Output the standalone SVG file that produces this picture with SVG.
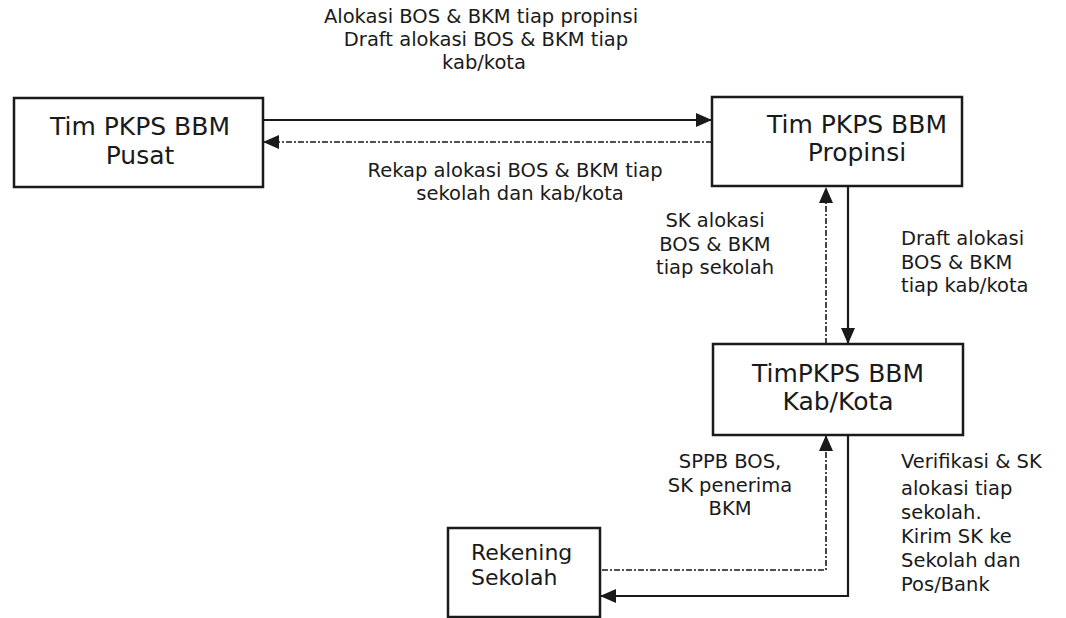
<svg xmlns="http://www.w3.org/2000/svg" width="1066" height="618" viewBox="0 0 1066 618">
<defs>
<style>
.box{fill:#fff;stroke:#1a1a1a;stroke-width:2.5}
.t{font-family:"DejaVu Sans","Liberation Sans",sans-serif;fill:#1a1a1a}
.title{font-size:25px;text-anchor:middle}
.lbl{font-size:19.5px}
.c{text-anchor:middle}
.solid{fill:none;stroke:#1a1a1a;stroke-width:2.2}
.dash{fill:none;stroke:#1a1a1a;stroke-width:1.6;stroke-dasharray:6 2 2 2}
</style>
<marker id="ah" markerUnits="userSpaceOnUse" markerWidth="16" markerHeight="14" refX="15" refY="7" orient="auto">
<path d="M0,0 L16,7 L0,14 Z" fill="#1a1a1a"/>
</marker>
</defs>
<rect width="1066" height="618" fill="#fff"/>

<g id="connectors">
<line class="solid" x1="263" y1="120" x2="711" y2="120" marker-end="url(#ah)"/>
<line class="dash" x1="712" y1="142" x2="264" y2="142" marker-end="url(#ah)"/>
<line class="dash" x1="826" y1="344" x2="826" y2="188" marker-end="url(#ah)"/>
<line class="solid" x1="848" y1="187" x2="848" y2="343" marker-end="url(#ah)"/>
<path class="dash" d="M602,570 H826 V436" marker-end="url(#ah)"/>
<path class="solid" d="M848,435 V596 H601" marker-end="url(#ah)"/>
</g>

<g id="node-pusat">
<rect class="box" x="14" y="98" width="249" height="89"/>
<text class="t title" x="140" y="135">Tim PKPS BBM</text>
<text class="t title" x="140" y="164">Pusat</text>
</g>

<g id="node-propinsi">
<rect class="box" x="712" y="97" width="250" height="89"/>
<text class="t title" x="857" y="133">Tim PKPS BBM</text>
<text class="t title" x="857" y="161">Propinsi</text>
</g>

<g id="node-kabkota">
<rect class="box" x="713" y="344" width="250" height="91"/>
<text class="t title" x="838" y="382">TimPKPS BBM</text>
<text class="t title" x="838" y="410">Kab/Kota</text>
</g>

<g id="node-rekening">
<rect class="box" x="448" y="528" width="152" height="89"/>
<text class="t" style="font-size:22px" x="471" y="560">Rekening</text>
<text class="t" style="font-size:22px" x="471" y="585">Sekolah</text>
</g>

<g id="labels">
<text class="t lbl c" x="481" y="23">Alokasi BOS &amp; BKM tiap propinsi</text>
<text class="t lbl c" x="486" y="46">Draft alokasi BOS &amp; BKM tiap</text>
<text class="t lbl c" x="484" y="69">kab/kota</text>

<text class="t lbl c" x="515" y="177">Rekap alokasi BOS &amp; BKM tiap</text>
<text class="t lbl c" x="520" y="200">sekolah dan kab/kota</text>

<text class="t lbl c" x="715" y="227">SK alokasi</text>
<text class="t lbl c" x="715" y="251">BOS &amp; BKM</text>
<text class="t lbl c" x="715" y="274">tiap sekolah</text>

<text class="t lbl" x="901" y="245">Draft alokasi</text>
<text class="t lbl" x="901" y="269">BOS &amp; BKM</text>
<text class="t lbl" x="901" y="292">tiap kab/kota</text>

<text class="t lbl c" x="730" y="468">SPPB BOS,</text>
<text class="t lbl c" x="730" y="492">SK penerima</text>
<text class="t lbl c" x="730" y="515">BKM</text>

<text class="t lbl" x="901" y="468">Verifikasi &amp; SK</text>
<text class="t lbl" x="901" y="495">alokasi tiap</text>
<text class="t lbl" x="901" y="519">sekolah.</text>
<text class="t lbl" x="901" y="543">Kirim SK ke</text>
<text class="t lbl" x="901" y="567">Sekolah dan</text>
<text class="t lbl" x="901" y="591">Pos/Bank</text>
</g>
</svg>
